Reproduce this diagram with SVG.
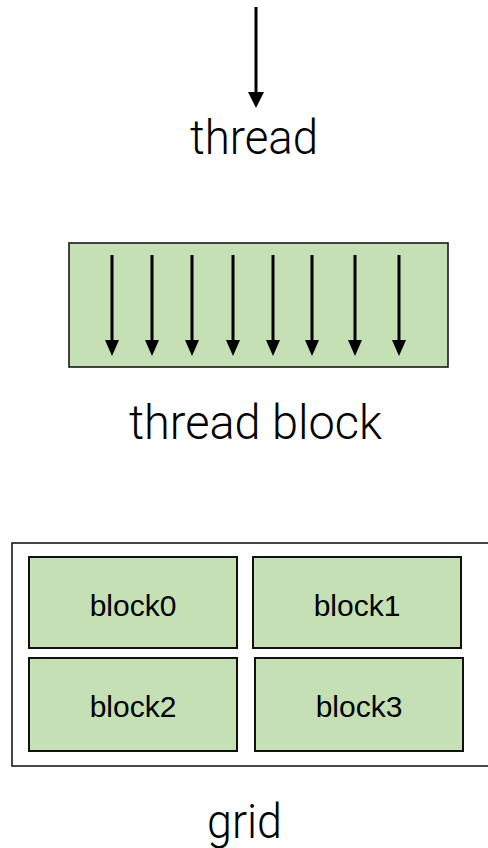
<svg xmlns="http://www.w3.org/2000/svg" width="488" height="848" viewBox="0 0 488 848">
<defs>
<style>
.lbl{font-family:Roboto,"Liberation Sans",sans-serif;font-weight:300;font-size:48px;fill:#000;text-anchor:start}
.blk{fill:#c5e0b4;stroke:#111;stroke-width:2}
.btxt{font-family:"Liberation Sans",Arial,sans-serif;font-size:30px;fill:#000;text-anchor:middle}
.arr{stroke:#000;stroke-width:3;fill:none}
.head{fill:#000}
</style>
</defs>
<rect width="488" height="848" fill="#fff"/>
<g id="connectors">
<line class="arr" x1="256" y1="7" x2="256" y2="94"/>
<polygon class="head" points="248,92 264,92 256,108"/>
</g>
<g id="thread">
<text class="lbl" x="190" y="154" textLength="128" lengthAdjust="spacingAndGlyphs">thread</text>
</g>
<g id="thread-block">
<rect x="69" y="243" width="379" height="124" fill="#c5e0b4" stroke="#1a1a1a" stroke-width="1.6"/>
<g id="block-threads">
<line class="arr" x1="112" y1="255" x2="112" y2="342"/><polygon class="head" points="105,340 119,340 112,356"/>
<line class="arr" x1="152" y1="255" x2="152" y2="342"/><polygon class="head" points="145,340 159,340 152,356"/>
<line class="arr" x1="192" y1="255" x2="192" y2="342"/><polygon class="head" points="185,340 199,340 192,356"/>
<line class="arr" x1="233" y1="255" x2="233" y2="342"/><polygon class="head" points="226,340 240,340 233,356"/>
<line class="arr" x1="273" y1="255" x2="273" y2="342"/><polygon class="head" points="266,340 280,340 273,356"/>
<line class="arr" x1="312" y1="255" x2="312" y2="342"/><polygon class="head" points="305,340 319,340 312,356"/>
<line class="arr" x1="355" y1="255" x2="355" y2="342"/><polygon class="head" points="348,340 362,340 355,356"/>
<line class="arr" x1="399" y1="255" x2="399" y2="342"/><polygon class="head" points="392,340 406,340 399,356"/>
</g>
<text class="lbl" x="129" y="439" textLength="253" lengthAdjust="spacingAndGlyphs">thread block</text>
</g>
<g id="grid">
<rect x="12" y="543" width="490" height="223" fill="#fff" stroke="#1a1a1a" stroke-width="1.6"/>
<text class="lbl" x="207" y="838" textLength="75" lengthAdjust="spacingAndGlyphs">grid</text>
</g>
<g id="block0">
<rect class="blk" x="29" y="557" width="208" height="91"/>
<text class="btxt" x="133" y="616">block0</text>
</g>
<g id="block1">
<rect class="blk" x="253" y="557" width="208" height="91"/>
<text class="btxt" x="357" y="616">block1</text>
</g>
<g id="block2">
<rect class="blk" x="29" y="658" width="208" height="93"/>
<text class="btxt" x="133" y="717">block2</text>
</g>
<g id="block3">
<rect class="blk" x="255" y="658" width="208" height="93"/>
<text class="btxt" x="359" y="717">block3</text>
</g>
</svg>
